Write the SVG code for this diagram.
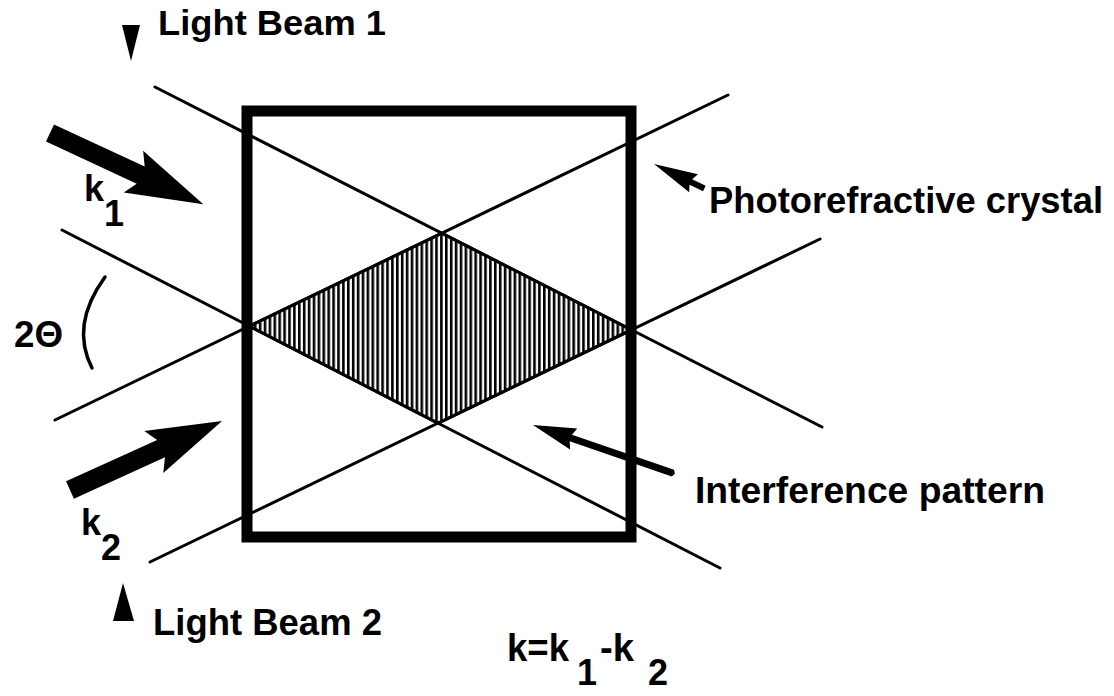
<svg xmlns="http://www.w3.org/2000/svg" width="1114" height="696" viewBox="0 0 1114 696">
<style>
.lbl{font-family:"Liberation Sans",Arial,sans-serif;font-weight:bold;fill:#000;}
.beam{stroke:#000;stroke-width:3;fill:none;stroke-linecap:round;}
</style>
<defs>
<pattern id="hatch" patternUnits="userSpaceOnUse" x="249" y="0" width="4.9" height="10">
<rect x="0" y="0" width="2.6" height="10" fill="#000"/>
</pattern>
</defs>
<rect width="1114" height="696" fill="#fff"/>
<g id="pattern-region">
<polygon points="249.3,326.2 441.8,233.1 631.5,329.9 438,423.3" fill="url(#hatch)" stroke="#000" stroke-width="3"/>
</g>
<g id="crystal">
<rect x="247" y="111" width="384" height="426" fill="none" stroke="#000" stroke-width="11"/>
</g>
<g id="connectors">
<line class="beam" x1="155" y1="87" x2="822" y2="427"/>
<line class="beam" x1="62" y1="230" x2="720" y2="568"/>
<line class="beam" x1="55" y1="420" x2="728" y2="95"/>
<line class="beam" x1="150" y1="562" x2="820" y2="239"/>
<path d="M105,277 Q70,325 92,368" stroke="#000" stroke-width="3.5" fill="none" stroke-linecap="round"/>
<g transform="translate(50,133) rotate(24.9)"><polygon points="0,-9.5 100,-9.5 92,-23 169,0 92,23 100,9.5 0,9.5" fill="#000"/></g>
<g transform="translate(70,490) rotate(-24.4)"><polygon points="0,-9.5 100,-9.5 92,-23 167,0 92,23 100,9.5 0,9.5" fill="#000"/></g>
<g transform="translate(654,164) rotate(26)"><polygon points="0,0 44,-10 41,-3 56,-3 56,3 41,3 44,10" fill="#000"/></g>
<g transform="translate(533,425) rotate(19)"><polygon points="0,0 43,-11 40,-3.5 148,-3.5 150,0 148,3.5 40,3.5 43,11" fill="#000"/></g>
<polygon points="122,25 140,25 131,61" fill="#000"/>
<polygon points="113,621 134,621 123,583" fill="#000"/>
</g>
<g id="labels">
<text class="lbl" x="158" y="35" font-size="35" textLength="228" lengthAdjust="spacingAndGlyphs">Light Beam 1</text>
<text class="lbl" x="709" y="213" font-size="36" textLength="394" lengthAdjust="spacingAndGlyphs">Photorefractive crystal</text>
<text class="lbl" x="695" y="503" font-size="36" textLength="350" lengthAdjust="spacingAndGlyphs">Interference pattern</text>
<text class="lbl" x="153" y="635" font-size="36" textLength="229" lengthAdjust="spacingAndGlyphs">Light Beam 2</text>
<text class="lbl" x="14" y="347" font-size="36" textLength="49" lengthAdjust="spacingAndGlyphs">2Θ</text>
<text class="lbl" x="84" y="201" font-size="36">k</text>
<text class="lbl" x="104" y="226" font-size="36">1</text>
<text class="lbl" x="81" y="535" font-size="36">k</text>
<text class="lbl" x="101" y="560" font-size="36">2</text>
<text class="lbl" x="507" y="661" font-size="38" textLength="62" lengthAdjust="spacingAndGlyphs">k=k</text>
<text class="lbl" x="577" y="685" font-size="36">1</text>
<text class="lbl" x="600" y="661" font-size="38" textLength="34" lengthAdjust="spacingAndGlyphs">-k</text>
<text class="lbl" x="648" y="685" font-size="36">2</text>
</g>
</svg>
